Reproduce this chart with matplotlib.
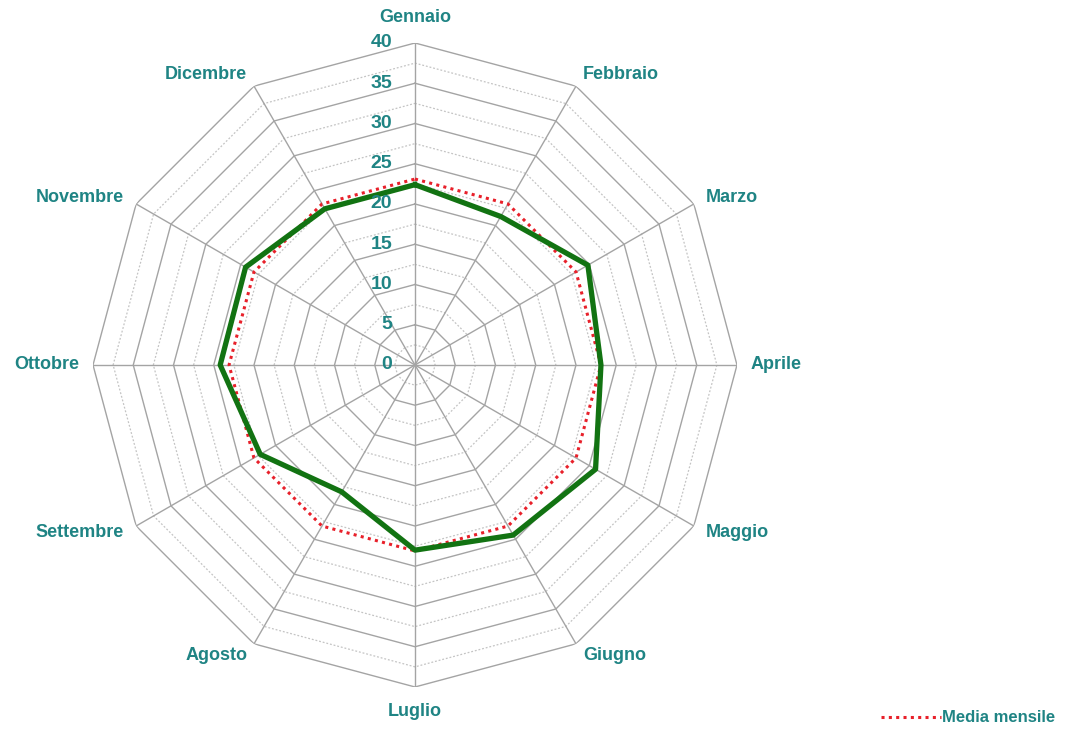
import numpy as np
import matplotlib
matplotlib.use("Agg")
import matplotlib.pyplot as plt

months = ["Gennaio", "Febbraio", "Marzo", "Aprile", "Maggio", "Giugno",
          "Luglio", "Agosto", "Settembre", "Ottobre", "Novembre", "Dicembre"]
values = [22.4, 21.3, 24.8, 23.1, 25.9, 24.4, 23.0, 18.2, 22.2, 24.2, 24.3, 22.4]
media = [23.1] * 12
rticks = [0, 5, 10, 15, 20, 25, 30, 35, 40]
minor_rings = [2.5, 7.5, 12.5, 17.5, 22.5, 27.5, 32.5, 37.5]

teal = "#1f8484"

fig = plt.figure(figsize=(10.78, 7.31), dpi=100)
ax = fig.add_axes([0.08627, 0.0602, 0.5974, 0.881], projection="polar")
ax.set_theta_zero_location("N")
ax.set_theta_direction(-1)
ax.set_ylim(0, 40)
ax.grid(False)
ax.spines["polar"].set_visible(False)
ax.set_xticks([])
ax.set_yticks([])
ax.patch.set_alpha(0)

n = len(months)
theta = np.arange(n) * 2 * np.pi / n
theta_c = np.append(theta, theta[0])

# minor rings (dotted)
for r in minor_rings:
    ax.plot(theta_c, [r] * (n + 1), color="#c4c4c4", lw=0.9, ls=(0, (1.5, 1.5)), zorder=1)
# major rings
for r in rticks[1:]:
    ax.plot(theta_c, [r] * (n + 1), color="#a4a4a4", lw=1.0, zorder=2)
# spokes
for t in theta:
    ax.plot([t, t], [0, 40], color="#a4a4a4", lw=1.0, zorder=2)

# data
ax.plot(theta_c, np.append(media, media[0]), color="#e8202a", lw=2.2,
        ls=(0, (1, 1.4)), zorder=4, label="Media mensile")
ax.plot(theta_c, np.append(values, values[0]), color="#127312", lw=3.8, zorder=5)

# radial tick labels
for r in rticks:
    ax.annotate(str(r), xy=(0, r), xytext=(-16.5, 0), textcoords="offset points",
                ha="right", va="center", color=teal, fontsize=14,
                fontweight="bold", family="Liberation Sans", zorder=6)

# month labels
for t, m in zip(theta, months):
    s, c = np.sin(t), np.cos(t)
    if abs(s) < 0.01:
        off = 18.0
        ha = "center"
    else:
        off = 10.0
        ha = "left" if s > 0 else "right"
    ax.annotate(m, xy=(t, 40), xytext=(off * s, off * c), textcoords="offset points",
                ha=ha, va="center", color=teal, fontsize=13,
                fontweight="bold", family="Liberation Sans", annotation_clip=False)

# legend
handles, labels = ax.get_legend_handles_labels()
leg = fig.legend(handles, labels, loc="center", bbox_to_anchor=(0.898, 0.018),
                 frameon=False, handlelength=3.6, handletextpad=0.1,
                 prop={"family": "Liberation Sans", "weight": "bold", "size": 12})
for txt in leg.get_texts():
    txt.set_color(teal)

fig.savefig("out.png", dpi=100)
